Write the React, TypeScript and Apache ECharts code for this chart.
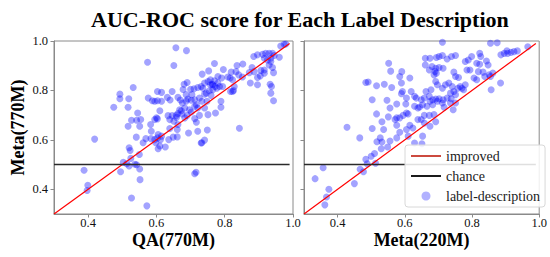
import React, { useEffect, useRef } from "react";
import * as echarts from "echarts";

const TITLE = "AUC-ROC score for Each Label Description";
const X_NAMES = ["QA(770M)", "Meta(220M)"];
const Y_NAME = "Meta(770M)";
const TICKS = [0.4, 0.6, 0.8, 1.0];
const LEGEND_NAMES = ["improved", "chance", "label-description"];
const IMPROVED_LINE = [[0.3, 0.3], [0.99, 0.99]];
const CHANCE_LINE = [[0.3, 0.5], [0.99, 0.5]];

// Left panel: x = QA(770M), y = Meta(770M)
const leftX = [0.657,0.688,0.574,0.651,0.964,0.979,0.974,0.885,0.896,0.911,0.920,0.930,0.940,0.945,0.916,0.925,0.935,0.930,0.940,0.916,0.906,0.960,0.935,0.770,0.836,0.853,0.880,0.886,0.872,0.904,0.896,0.916,0.943,0.753,0.796,0.819,0.833,0.841,0.852,0.780,0.791,0.809,0.816,0.823,0.734,0.758,0.770,0.780,0.763,0.751,0.741,0.731,0.736,0.721,0.710,0.700,0.690,0.681,0.678,0.758,0.765,0.772,0.765,0.777,0.785,0.794,0.755,0.741,0.746,0.760,0.826,0.828,0.823,0.817,0.875,0.896,0.933,0.935,0.943,0.937,0.532,0.493,0.493,0.519,0.475,0.517,0.576,0.588,0.595,0.603,0.615,0.603,0.615,0.632,0.640,0.646,0.663,0.670,0.676,0.687,0.692,0.687,0.702,0.683,0.673,0.668,0.663,0.717,0.712,0.721,0.741,0.748,0.733,0.726,0.712,0.704,0.789,0.789,0.773,0.751,0.610,0.634,0.646,0.659,0.675,0.683,0.690,0.702,0.697,0.658,0.545,0.527,0.542,0.554,0.600,0.595,0.603,0.583,0.517,0.551,0.585,0.639,0.651,0.663,0.661,0.639,0.717,0.712,0.726,0.721,0.749,0.694,0.843,0.541,0.569,0.584,0.561,0.595,0.603,0.615,0.605,0.612,0.598,0.610,0.605,0.626,0.636,0.649,0.661,0.741,0.733,0.731,0.419,0.520,0.523,0.550,0.525,0.503,0.513,0.537,0.542,0.520,0.551,0.495,0.552,0.388,0.399,0.397,0.712,0.716,0.527,0.572];
const leftY = [0.973,0.961,0.914,0.901,0.980,0.988,0.987,0.937,0.944,0.946,0.950,0.950,0.950,0.941,0.930,0.923,0.917,0.903,0.893,0.883,0.881,0.934,0.930,0.909,0.901,0.907,0.893,0.876,0.872,0.859,0.852,0.870,0.872,0.879,0.885,0.874,0.876,0.863,0.854,0.856,0.850,0.854,0.850,0.843,0.866,0.843,0.839,0.830,0.825,0.836,0.830,0.816,0.809,0.812,0.807,0.805,0.832,0.825,0.804,0.823,0.823,0.816,0.803,0.809,0.816,0.816,0.799,0.785,0.789,0.780,0.800,0.816,0.796,0.796,0.830,0.823,0.825,0.789,0.758,0.816,0.812,0.785,0.766,0.766,0.732,0.732,0.769,0.758,0.756,0.796,0.792,0.758,0.756,0.772,0.761,0.796,0.772,0.761,0.749,0.783,0.765,0.756,0.760,0.729,0.718,0.722,0.707,0.742,0.736,0.729,0.729,0.756,0.756,0.769,0.762,0.783,0.756,0.732,0.709,0.702,0.718,0.698,0.698,0.691,0.705,0.689,0.699,0.713,0.722,0.699,0.709,0.679,0.679,0.682,0.689,0.682,0.685,0.662,0.655,0.655,0.635,0.682,0.675,0.662,0.642,0.646,0.671,0.686,0.699,0.635,0.640,0.628,0.647,0.611,0.605,0.605,0.588,0.601,0.608,0.615,0.622,0.601,0.588,0.575,0.564,0.571,0.601,0.611,0.612,0.599,0.588,0.587,0.603,0.568,0.557,0.541,0.525,0.509,0.503,0.501,0.499,0.494,0.482,0.471,0.439,0.477,0.416,0.395,0.463,0.469,0.365,0.333];

// Right panel: x = Meta(220M), y = Meta(770M)
const rightX = [0.712,0.855,0.875,0.966,0.935,0.925,0.916,0.906,0.896,0.886,0.904,0.823,0.826,0.799,0.789,0.780,0.814,0.823,0.843,0.848,0.712,0.702,0.694,0.726,0.739,0.751,0.675,0.661,0.661,0.681,0.673,0.692,0.702,0.714,0.687,0.694,0.690,0.785,0.794,0.819,0.833,0.838,0.851,0.862,0.855,0.885,0.857,0.806,0.814,0.746,0.751,0.760,0.552,0.558,0.591,0.484,0.491,0.516,0.539,0.561,0.585,0.590,0.593,0.605,0.590,0.615,0.619,0.629,0.634,0.649,0.658,0.673,0.663,0.678,0.692,0.697,0.712,0.721,0.731,0.741,0.746,0.751,0.758,0.770,0.775,0.780,0.765,0.736,0.726,0.714,0.702,0.692,0.683,0.675,0.503,0.547,0.516,0.556,0.551,0.576,0.603,0.605,0.610,0.595,0.585,0.576,0.571,0.629,0.639,0.644,0.653,0.666,0.683,0.697,0.712,0.717,0.736,0.744,0.751,0.738,0.639,0.649,0.658,0.673,0.687,0.692,0.675,0.658,0.428,0.503,0.532,0.576,0.537,0.585,0.605,0.615,0.624,0.653,0.466,0.527,0.556,0.576,0.610,0.517,0.532,0.549,0.530,0.629,0.651,0.500,0.510,0.484,0.488,0.513,0.467,0.477,0.450,0.357,0.333,0.374,0.367,0.362];
const rightY = [0.995,0.991,0.993,0.977,0.960,0.957,0.954,0.950,0.950,0.944,0.960,0.950,0.937,0.937,0.923,0.917,0.910,0.906,0.919,0.903,0.941,0.937,0.933,0.927,0.937,0.941,0.930,0.930,0.903,0.897,0.883,0.890,0.893,0.890,0.863,0.870,0.877,0.883,0.883,0.876,0.874,0.856,0.863,0.870,0.856,0.830,0.803,0.850,0.843,0.874,0.856,0.852,0.910,0.878,0.876,0.832,0.834,0.819,0.825,0.812,0.856,0.830,0.796,0.769,0.787,0.850,0.796,0.776,0.769,0.762,0.769,0.776,0.796,0.803,0.836,0.823,0.809,0.823,0.830,0.816,0.796,0.783,0.809,0.809,0.803,0.823,0.816,0.789,0.769,0.762,0.766,0.765,0.762,0.756,0.762,0.760,0.705,0.729,0.693,0.745,0.745,0.709,0.705,0.699,0.689,0.689,0.682,0.736,0.729,0.733,0.742,0.736,0.742,0.756,0.749,0.732,0.749,0.722,0.749,0.766,0.682,0.682,0.699,0.699,0.702,0.673,0.655,0.668,0.651,0.646,0.673,0.659,0.642,0.631,0.642,0.659,0.648,0.615,0.608,0.608,0.595,0.608,0.615,0.592,0.591,0.571,0.564,0.587,0.584,0.534,0.545,0.521,0.503,0.505,0.481,0.471,0.423,0.487,0.443,0.400,0.369,0.337];

const FONT = "Liberation Serif, DejaVu Serif, serif";
const FRAME = "#8a8a8a";

function zip(xs: number[], ys: number[]) {
  return xs.map((x, i) => [x, ys[i]]);
}

const tickLabel = (v: number) => (TICKS.some((t) => Math.abs(t - v) < 1e-6) ? v.toFixed(1) : "");

function makeXAxis(idx: number) {
  return {
    type: "value",
    gridIndex: idx,
    min: 0.3,
    max: 1.0,
    name: X_NAMES[idx],
    nameLocation: "middle",
    nameGap: 18,
    nameMoveOverlap: false,
    nameTextStyle: { fontFamily: FONT, fontWeight: "bold", fontSize: 18, lineHeight: 16, color: "#000", verticalAlign: "top" },
    axisLine: { show: true, onZero: false, lineStyle: { color: FRAME, width: 1 } },
    axisTick: { show: true, inside: false, length: 3.5, lineStyle: { color: FRAME }, customValues: TICKS },
    axisLabel: {
      show: true,
      margin: 2,
      fontFamily: FONT,
      fontSize: 12.5,
      lineHeight: 13,
      color: "#111",
      customValues: TICKS,
      formatter: tickLabel,
    },
    splitLine: { show: false },
  };
}

function makeYAxis(idx: number) {
  return {
    type: "value",
    gridIndex: idx,
    min: 0.3,
    max: 1.0,
    name: idx === 0 ? Y_NAME : "",
    nameLocation: "middle",
    nameGap: 27,
    nameMoveOverlap: false,
    nameRotate: 90,
    nameTextStyle: { fontFamily: FONT, fontWeight: "bold", fontSize: 18, color: "#000" },
    axisLine: { show: true, onZero: false, lineStyle: { color: FRAME, width: 1 } },
    axisTick: { show: true, inside: false, length: 3.5, lineStyle: { color: FRAME }, customValues: TICKS },
    axisLabel: {
      show: idx === 0,
      margin: 6,
      fontFamily: FONT,
      fontSize: 12.5,
      color: "#111",
      customValues: TICKS,
      formatter: tickLabel,
    },
    splitLine: { show: false },
  };
}

function panelSeries(idx: number, xs: number[], ys: number[]) {
  return [
    {
      name: LEGEND_NAMES[2],
      type: "scatter",
      xAxisIndex: idx,
      yAxisIndex: idx,
      data: zip(xs, ys),
      symbol: "circle",
      symbolSize: 7,
      itemStyle: { color: "#0000ff", opacity: 0.36 },
      z: 2,
    },
    {
      name: LEGEND_NAMES[0],
      type: "line",
      xAxisIndex: idx,
      yAxisIndex: idx,
      data: IMPROVED_LINE,
      symbol: "none",
      lineStyle: { color: "#ff0000", width: 1.2 },
      itemStyle: { color: "#ff0000" },
      z: 3,
    },
    {
      name: LEGEND_NAMES[1],
      type: "line",
      xAxisIndex: idx,
      yAxisIndex: idx,
      data: CHANCE_LINE,
      symbol: "none",
      lineStyle: { color: "#2a2a2a", width: 1.5 },
      itemStyle: { color: "#2a2a2a" },
      z: 3,
    },
  ];
}

export default function App() {
  const ref = useRef<HTMLDivElement>(null);
  useEffect(() => {
    if (!ref.current) return;
    const chart = echarts.init(ref.current, null, { renderer: "svg" });
    chart.setOption({
      animation: false,
      backgroundColor: "#fff",
      textStyle: { fontFamily: FONT },
      title: {
        text: TITLE,
        left: 86,
        top: 3,
        textStyle: { fontFamily: FONT, fontWeight: "bold", fontSize: 22, color: "#000" },
      },
      grid: [
        { left: 54, right: 257, top: 41, bottom: 43, show: true, borderColor: FRAME, borderWidth: 1, backgroundColor: "transparent" },
        { left: 304, right: 7, top: 41, bottom: 43, show: true, borderColor: FRAME, borderWidth: 1, backgroundColor: "transparent" },
      ],
      xAxis: [makeXAxis(0), makeXAxis(1)],
      yAxis: [makeYAxis(0), makeYAxis(1)],
      legend: {
        orient: "vertical",
        left: 405,
        top: 145,
        padding: [4, 5, 4, 5],
        itemGap: 6,
        itemWidth: 30,
        itemHeight: 9,
        backgroundColor: "rgba(255,255,255,0.85)",
        borderColor: "#d8d8d8",
        borderWidth: 1,
        borderRadius: 3,
        textStyle: { fontFamily: FONT, fontSize: 14, color: "#222", lineHeight: 14 },
        data: [
          { name: LEGEND_NAMES[0], lineStyle: { color: "#cc4a3f", width: 2 }, itemStyle: { color: "#cc4a3f", opacity: 0 } },
          { name: LEGEND_NAMES[1], lineStyle: { color: "#1a1a1a", width: 2 }, itemStyle: { color: "#1a1a1a", opacity: 0 } },
          { name: LEGEND_NAMES[2], icon: "circle", itemStyle: { color: "#0000ff", opacity: 0.3 } },
        ],
        selectedMode: false,
        z: 10,
      },
      series: [...panelSeries(0, leftX, leftY), ...panelSeries(1, rightX, rightY)],
    });
    return () => chart.dispose();
  }, []);
  return (
    <div
      ref={ref}
      style={{ position: "fixed", left: 0, top: 0, width: 550, height: 257, background: "#fff" }}
    />
  );
}
